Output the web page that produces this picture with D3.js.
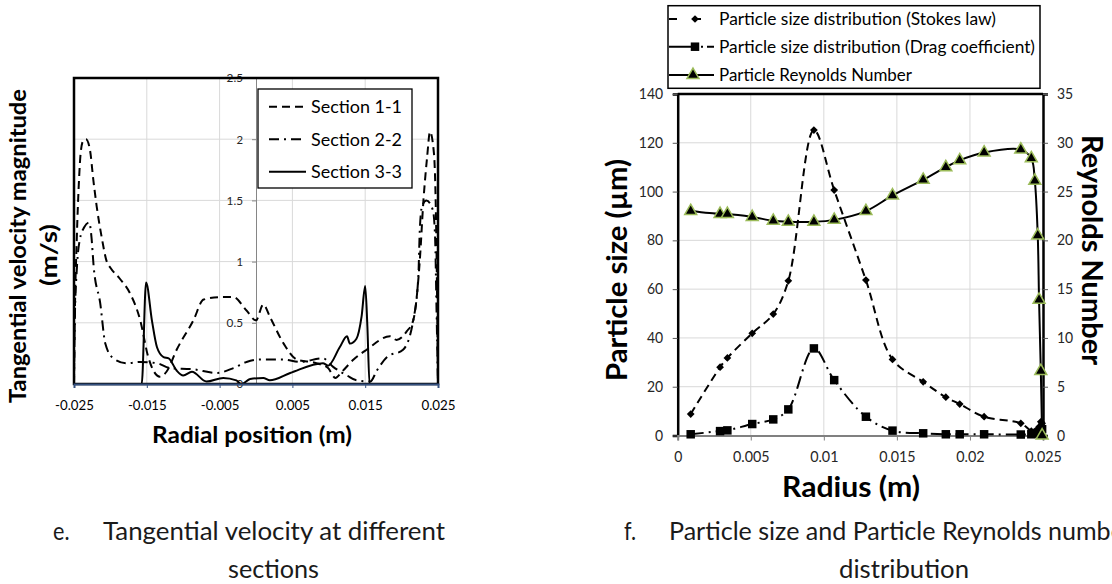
<!DOCTYPE html>
<html>
<head>
<meta charset="utf-8">
<script src="https://cdn.jsdelivr.net/npm/d3@7"></script>
<style>
  html, body { margin: 0; padding: 0; background: #fff; }
  svg { display: block; }
</style>
</head>
<body>
<svg id="chart" width="1112" height="584"></svg>
<script>
// ---------- Panel e: tangential velocity along the radial line ----------
const leftXTicks = [-0.025, -0.015, -0.005, 0.005, 0.015, 0.025];
const leftYTicks = [0, 0.5, 1, 1.5, 2, 2.5];
const leftSeriesNames = ["Section 1-1", "Section 2-2", "Section 3-3"];

// [radial position (m), tangential velocity (m/s)]
const section11 = [
  [-0.025, 0], [-0.0249, 0.5], [-0.02462, 1.18], [-0.02431, 1.67], [-0.02408, 1.89],
  [-0.02372, 1.99], [-0.02335, 2.0], [-0.0228, 1.91], [-0.02235, 1.67], [-0.02188, 1.45],
  [-0.0212, 1.2], [-0.0205, 1.0], [-0.0200, 0.95], [-0.0187, 0.86], [-0.0173, 0.74],
  [-0.0159, 0.52], [-0.0148, 0.22], [-0.0132, 0.06], [-0.0123, 0.1], [-0.0109, 0.28],
  [-0.0086, 0.52], [-0.0072, 0.69], [-0.0049, 0.71], [-0.0031, 0.71], [-0.0013, 0.6],
  [0.0, 0.52], [0.001, 0.65], [0.0019, 0.55], [0.0038, 0.33], [0.0056, 0.2],
  [0.0083, 0.17], [0.0099, 0.13], [0.0109, 0.05], [0.0118, 0.1], [0.0134, 0.2],
  [0.0152, 0.28], [0.0184, 0.39], [0.0193, 0.36], [0.0207, 0.43], [0.0216, 0.52],
  [0.0225, 1.01], [0.0230, 1.5], [0.0235, 1.85], [0.0239, 2.06], [0.02445, 1.88],
  [0.0248, 1.07], [0.025, 0]
];
const section22 = [
  [-0.025, 0], [-0.0249, 0.5], [-0.0246, 0.95], [-0.0242, 1.18], [-0.0236, 1.28],
  [-0.0229, 1.32], [-0.0226, 1.2], [-0.0223, 0.96], [-0.0214, 0.66], [-0.0207, 0.33],
  [-0.0196, 0.21], [-0.0178, 0.17], [-0.0159, 0.18], [-0.0136, 0.17], [-0.0118, 0.13],
  [-0.0086, 0.12], [-0.0054, 0.09], [-0.0031, 0.13], [-0.0013, 0.18], [0.0005, 0.2],
  [0.0038, 0.2], [0.006, 0.18], [0.0092, 0.21], [0.0106, 0.14], [0.0125, 0.07],
  [0.0138, 0.03], [0.0157, 0.02], [0.0166, 0.11], [0.018, 0.22], [0.0202, 0.28],
  [0.0216, 0.52], [0.0223, 0.88], [0.0225, 1.26], [0.0228, 1.45], [0.0234, 1.5],
  [0.0243, 1.42], [0.0246, 1.2], [0.0248, 0.6], [0.025, 0]
];
const section33 = [
  [-0.025, 0], [-0.0157, 0], [-0.0151, 0.83], [-0.0143, 0.52], [-0.0136, 0.3],
  [-0.0127, 0.22], [-0.012, 0.21], [-0.0109, 0.11], [-0.01, 0.07], [-0.0088, 0.1],
  [-0.0068, 0.02], [-0.0045, 0.05], [-0.0027, 0.03], [-0.002, 0.0], [-0.0008, 0.04],
  [0.001, 0.05], [0.0019, 0.03], [0.0047, 0.09], [0.0092, 0.17], [0.0099, 0.15],
  [0.0115, 0.3], [0.0125, 0.39], [0.0129, 0.33], [0.0138, 0.37], [0.0145, 0.55],
  [0.015, 0.8], [0.0153, 0.47], [0.0156, 0], [0.025, 0]
];

// ---------- Panel f: particle size and particle Reynolds number ----------
const radius = [0.00089, 0.0029, 0.0034, 0.0051, 0.00654, 0.00757, 0.00932, 0.01071,
  0.01288, 0.0147, 0.0168, 0.01835, 0.0193, 0.02097, 0.02348, 0.0242, 0.02444,
  0.02464, 0.02473, 0.02485, 0.02494];
const stokesSize = [8.8, 28, 31.8, 41.9, 49.8, 63.4, 125.2, 100.6, 63.7, 31.2, 22,
  15.7, 12.9, 7.7, 5, 1.8, 1.5, 2.5, 3.5, 5.6, 5.0];
const dragSize = [0.5, 1.8, 2.1, 4.7, 6.6, 10.7, 35.7, 22.7, 7.7, 2.0, 0.9, 0.5, 0.5,
  0.5, 0.4, 0.5, 0.8, 1.2, 1.6, 2.2, 2.6];
const reynolds = [23.0, 22.7, 22.7, 22.4, 22.0, 21.9, 21.9, 22.1, 23.0, 24.6, 26.2,
  27.5, 28.2, 29.0, 29.3, 28.4, 26.1, 20.5, 13.9, 6.6, 0];
const rightXTicks = [0, 0.005, 0.01, 0.015, 0.02, 0.025];
const sizeTicks = [0, 20, 40, 60, 80, 100, 120, 140];
const reTicks = [0, 5, 10, 15, 20, 25, 30, 35];
const rightSeriesNames = [
  "Particle size distribution (Stokes law)",
  "Particle size distribution (Drag coefficient)",
  "Particle Reynolds Number"
];

// ---------- helpers ----------
const FONT = "Lato, 'Open Sans', 'Liberation Sans', sans-serif";
const svg = d3.select("#chart");

// approximate advance widths (em) of the narrow figure font used for numbers
const NUM_W = { "0": .507, "1": .507, "2": .507, "3": .507, "4": .507, "5": .507,
  "6": .507, "7": .507, "8": .507, "9": .507, ".": .252, "-": .306 };
function numWidth(s, px) { let w = 0; for (const c of s) w += (NUM_W[c] || .5); return w * px; }
function fit(sel, w) { sel.attr("textLength", w).attr("lengthAdjust", "spacingAndGlyphs"); }
function squeeze(sel, k) {
  sel.each(function () {
    const w = this.getComputedTextLength();
    this.setAttribute("textLength", w * k);
    this.setAttribute("lengthAdjust", "spacingAndGlyphs");
  });
}
function label(g, x, y, str, opts = {}) {
  const t = g.append("text")
    .attr("x", x).attr("y", y)
    .attr("font-family", FONT)
    .attr("font-size", opts.size || 16)
    .attr("font-weight", opts.bold ? "bold" : "normal")
    .attr("fill", opts.fill || "#000")
    .attr("text-anchor", opts.anchor || "start")
    .text(str);
  if (opts.rotate) t.attr("transform", `rotate(${opts.rotate},${x},${y})`);
  if (opts.width) fit(t, opts.width); else squeeze(t, opts.k || 0.88);
  return t;
}
function styleTicks(axisG, px, fill, wpx) {
  axisG.attr("font-family", null).attr("font-size", null);
  axisG.selectAll(".tick text")
    .attr("font-family", FONT).attr("font-size", px).attr("fill", fill)
    .each(function () { fit(d3.select(this), numWidth(this.textContent, wpx)); });
}

// =====================================================================
// Panel e
// =====================================================================
const xL = d3.scaleLinear().domain([-0.025, 0.025]).range([74, 438]);
const yL = d3.scaleLinear().domain([0, 2.5]).range([384, 78]);
const gL = svg.append("g");

gL.selectAll("line.vgrid").data(leftXTicks.slice(1, -1)).join("line")
  .attr("class", "vgrid")
  .attr("x1", d => xL(d)).attr("x2", d => xL(d))
  .attr("y1", yL(2.5)).attr("y2", yL(0))
  .attr("stroke", "#d9d9d9").attr("stroke-width", 1);
gL.selectAll("line.hgrid").data(leftYTicks.slice(1, -1)).join("line")
  .attr("class", "hgrid")
  .attr("x1", xL(-0.025)).attr("x2", xL(0.025))
  .attr("y1", d => yL(d)).attr("y2", d => yL(d))
  .attr("stroke", "#d9d9d9").attr("stroke-width", 1);

// value axis sits on the centre line
const yAxisL = gL.append("g")
  .attr("transform", `translate(${xL(0)},0)`)
  .call(d3.axisLeft(yL).tickValues(leftYTicks).tickFormat(d => String(d))
    .tickSize(4).tickPadding(9));
yAxisL.select(".domain").attr("stroke", "#868686");
yAxisL.selectAll(".tick line").attr("stroke", "#868686");
styleTicks(yAxisL, 12, "#262626", 13);

const lineL = d3.line().x(d => xL(d[0])).y(d => yL(d[1])).curve(d3.curveMonotoneX);
const leftStyles = [
  { data: section11, dash: "8,5" },
  { data: section22, dash: "10,5,2,5" },
  { data: section33, dash: null }
];
leftStyles.forEach(s => {
  gL.append("path").datum(s.data)
    .attr("d", lineL)
    .attr("fill", "none").attr("stroke", "#000").attr("stroke-width", 2)
    .attr("stroke-dasharray", s.dash);
});

// plot-area frame
gL.append("rect")
  .attr("x", xL(-0.025)).attr("y", yL(2.5))
  .attr("width", xL(0.025) - xL(-0.025)).attr("height", yL(0) - yL(2.5))
  .attr("fill", "none").attr("stroke", "#000").attr("stroke-width", 2.5);

// category axis along the bottom
const xAxisL = gL.append("g")
  .attr("transform", `translate(0,${yL(0)})`)
  .call(d3.axisBottom(xL).tickValues(leftXTicks).tickFormat(d => String(d))
    .tickSize(4).tickPadding(12));
xAxisL.select(".domain").attr("stroke", "#34507f").attr("stroke-width", 2);
xAxisL.selectAll(".tick line").attr("stroke", "#34507f");
styleTicks(xAxisL, 14, "#000", 15);

// legend
const legL = gL.append("g");
legL.append("rect").attr("x", 258).attr("y", 89).attr("width", 154).attr("height", 99)
  .attr("fill", "#fff").attr("stroke", "#000").attr("stroke-width", 1.3);
const legLRows = [106.7, 139.3, 171.7];
leftSeriesNames.forEach((name, i) => {
  legL.append("line")
    .attr("x1", 269).attr("x2", 306).attr("y1", legLRows[i]).attr("y2", legLRows[i])
    .attr("stroke", "#000").attr("stroke-width", 2)
    .attr("stroke-dasharray", i === 0 ? "8,5" : i === 1 ? "10,5,2,5" : null);
  label(legL, 311, legLRows[i] + 6.5, name, { size: 18, width: 91 });
});

// axis titles
label(gL, 26, 246, "Tangential velocity magnitude",
  { size: 22.5, bold: true, anchor: "middle", rotate: -90, width: 314 });
label(gL, 57, 255, "(m/s)", { size: 22.5, bold: true, anchor: "middle", rotate: -90, width: 62 });
label(gL, 252, 443, "Radial position (m)", { size: 22.5, bold: true, anchor: "middle", width: 200 });

// caption e
label(gL, 53, 540, "e.", { size: 24.5, fill: "#1a1a1a" });
label(gL, 103, 540, "Tangential velocity at different", { size: 24.5, fill: "#1a1a1a", width: 342 });
label(gL, 273.5, 578, "sections", { size: 24.5, fill: "#1a1a1a", anchor: "middle", width: 91 });

// =====================================================================
// Panel f
// =====================================================================
const xR = d3.scaleLinear().domain([0, 0.025]).range([677.7, 1043]);
const yR = d3.scaleLinear().domain([0, 140]).range([435.5, 94]);
const yR2 = d3.scaleLinear().domain([0, 35]).range([435.5, 94]);
const gR = svg.append("g");

gR.selectAll("line.vgrid").data(rightXTicks.slice(1, -1)).join("line")
  .attr("class", "vgrid")
  .attr("x1", d => xR(d)).attr("x2", d => xR(d))
  .attr("y1", yR(140)).attr("y2", yR(0))
  .attr("stroke", "#d9d9d9").attr("stroke-width", 1);
gR.selectAll("line.hgrid").data(sizeTicks.slice(1, -1)).join("line")
  .attr("class", "hgrid")
  .attr("x1", xR(0)).attr("x2", xR(0.025))
  .attr("y1", d => yR(d)).attr("y2", d => yR(d))
  .attr("stroke", "#d9d9d9").attr("stroke-width", 1);

const axLeftR = gR.append("g").attr("transform", `translate(${xR(0)},0)`)
  .call(d3.axisLeft(yR).tickValues(sizeTicks).tickSize(5).tickPadding(9.5));
axLeftR.select(".domain").attr("stroke", "#000").attr("stroke-width", 2.5);
axLeftR.selectAll(".tick line").attr("stroke", "#595959");
styleTicks(axLeftR, 14.5, "#262626", 16);

const axRightR = gR.append("g").attr("transform", `translate(${xR(0.025)},0)`)
  .call(d3.axisRight(yR2).tickValues(reTicks).tickSize(5).tickPadding(9));
axRightR.select(".domain").attr("stroke", "#000").attr("stroke-width", 2.5);
axRightR.selectAll(".tick line").attr("stroke", "#595959");
styleTicks(axRightR, 14.5, "#262626", 16);

gR.append("line")
  .attr("x1", xR(0)).attr("x2", xR(0.025)).attr("y1", yR(140)).attr("y2", yR(140))
  .attr("stroke", "#000").attr("stroke-width", 2.5);

const axBottomR = gR.append("g").attr("transform", `translate(0,${yR(0)})`)
  .call(d3.axisBottom(xR).tickValues(rightXTicks).tickFormat(d => String(d))
    .tickSize(5).tickPadding(11));
axBottomR.select(".domain").attr("stroke", "#808080").attr("stroke-width", 2);
axBottomR.selectAll(".tick line").attr("stroke", "#808080");
styleTicks(axBottomR, 14.5, "#262626", 16);

const curveR = d3.curveCatmullRom.alpha(0.5);
const idx = d3.range(radius.length);
const lineStokes = d3.line().x(i => xR(radius[i])).y(i => yR(stokesSize[i])).curve(curveR);
const lineDrag = d3.line().x(i => xR(radius[i])).y(i => yR(dragSize[i])).curve(curveR);
const lineRe = d3.line().x(i => xR(radius[i])).y(i => yR2(reynolds[i])).curve(curveR);

const diamond = d3.symbol().type(d3.symbolSquare).size(30)();
const square = d3.symbol().type(d3.symbolSquare).size(72)();
const triangle = d3.symbol().type(d3.symbolTriangle).size(62)();

gR.append("path").datum(idx).attr("d", lineStokes)
  .attr("fill", "none").attr("stroke", "#000").attr("stroke-width", 2)
  .attr("stroke-dasharray", "8,5");
gR.selectAll("path.stokes").data(idx).join("path").attr("class", "stokes")
  .attr("d", diamond)
  .attr("transform", i => `translate(${xR(radius[i])},${yR(stokesSize[i])}) rotate(45)`)
  .attr("fill", "#000");

gR.append("path").datum(idx).attr("d", lineDrag)
  .attr("fill", "none").attr("stroke", "#000").attr("stroke-width", 2)
  .attr("stroke-dasharray", "13,5,2,5");
gR.selectAll("path.drag").data(idx).join("path").attr("class", "drag")
  .attr("d", square)
  .attr("transform", i => `translate(${xR(radius[i])},${yR(dragSize[i])})`)
  .attr("fill", "#000");

gR.append("path").datum(idx).attr("d", lineRe)
  .attr("fill", "none").attr("stroke", "#000").attr("stroke-width", 2);
gR.selectAll("path.re").data(idx).join("path").attr("class", "re")
  .attr("d", triangle)
  .attr("transform", i => `translate(${xR(radius[i])},${yR2(reynolds[i])})`)
  .attr("fill", "#000").attr("stroke", "#9bbb59").attr("stroke-width", 1.5);

// legend above the plot
const legR = gR.append("g");
legR.append("rect").attr("x", 668).attr("y", 5.7).attr("width", 372).attr("height", 82.6)
  .attr("fill", "#fff").attr("stroke", "#000").attr("stroke-width", 1.5);
const legRRows = [19, 46.7, 75];
const legRWidths = [277, 316, 193];
legR.append("line").attr("x1", 669).attr("x2", 714).attr("y1", legRRows[0]).attr("y2", legRRows[0])
  .attr("stroke", "#000").attr("stroke-width", 2).attr("stroke-dasharray", "8,16,8,20");
legR.append("path").attr("d", diamond)
  .attr("transform", `translate(695,${legRRows[0]}) rotate(45)`).attr("fill", "#000");
legR.append("line").attr("x1", 669).attr("x2", 714).attr("y1", legRRows[1]).attr("y2", legRRows[1])
  .attr("stroke", "#000").attr("stroke-width", 2).attr("stroke-dasharray", "26,6,2,4,7");
legR.append("path").attr("d", square)
  .attr("transform", `translate(695,${legRRows[1]})`).attr("fill", "#000");
legR.append("line").attr("x1", 669).attr("x2", 714).attr("y1", legRRows[2]).attr("y2", legRRows[2])
  .attr("stroke", "#000").attr("stroke-width", 2);
legR.append("path").attr("d", triangle)
  .attr("transform", `translate(693,${legRRows[2]})`)
  .attr("fill", "#000").attr("stroke", "#9bbb59").attr("stroke-width", 1.5);
rightSeriesNames.forEach((name, i) => {
  label(legR, 719, legRRows[i] + 6, name, { size: 16.5, width: legRWidths[i] });
});

// axis titles
label(gR, 627, 270, "Particle size (µm)", { size: 28, bold: true, anchor: "middle", rotate: -90, width: 222 });
label(gR, 1082, 250, "Reynolds Number", { size: 28, bold: true, anchor: "middle", rotate: 90, width: 230 });
label(gR, 851, 496.5, "Radius (m)", { size: 28, bold: true, anchor: "middle", width: 138 });

// caption f
label(gR, 624, 540, "f.", { size: 24.5, fill: "#1a1a1a" });
label(gR, 669, 540, "Particle size and Particle Reynolds number", { size: 24.5, fill: "#1a1a1a", width: 464 });
label(gR, 904, 578, "distribution", { size: 24.5, fill: "#1a1a1a", anchor: "middle", width: 130 });
</script>
</body>
</html>
